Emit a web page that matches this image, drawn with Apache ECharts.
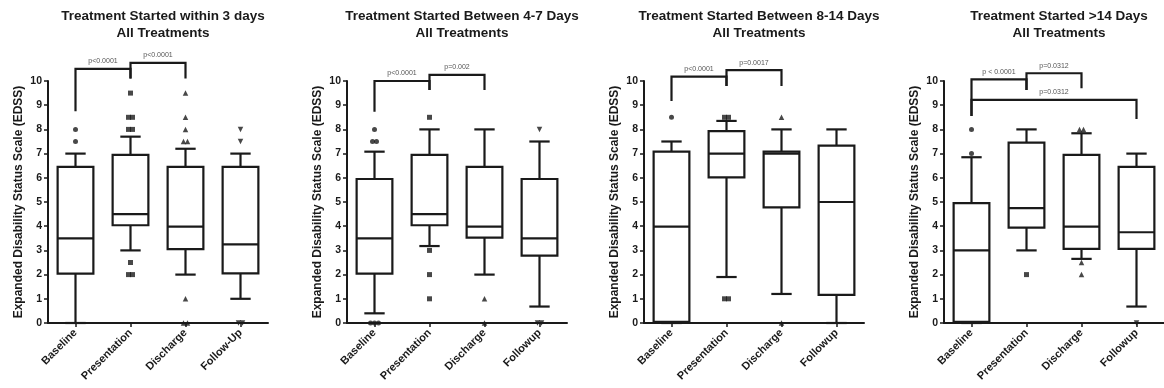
<!DOCTYPE html>
<html><head><meta charset="utf-8">
<script src="https://cdn.jsdelivr.net/npm/echarts@6/dist/echarts.min.js"></script>
<style>html,body{margin:0;padding:0;background:#fff}#c{width:1164px;height:388px}</style>
</head><body><div id="c"></div>
<script>
// ---------- DATA ----------
const panelTitles = [
  'Treatment Started within 3 days\nAll Treatments',
  'Treatment Started Between 4-7 Days\nAll Treatments',
  'Treatment Started Between 8-14 Days\nAll Treatments',
  'Treatment Started >14 Days\nAll Treatments'
];
const categories3days = ['Baseline','Presentation','Discharge','Follow-Up'];
const categoriesOther = ['Baseline','Presentation','Discharge','Followup'];
const yTicks = [0,1,2,3,4,5,6,7,8,9,10];
const yAxisTitle = 'Expanded Disability Status Scale (EDSS)';

// [low whisker, Q1, median, Q3, high whisker] per category
const boxes3days   = [[0,2.04,3.5,6.45,7],[3,4.04,4.5,6.95,7.7],[2,3.05,3.98,6.45,7.2],[1,2.05,3.25,6.45,7]];
const boxes4to7    = [[0.4,2.04,3.5,5.95,7.08],[3.18,4.04,4.5,6.95,8],[2,3.53,3.98,6.45,8],[0.68,2.78,3.5,5.95,7.5]];
const boxes8to14   = [[0,0.05,3.98,7.08,7.5],[1.9,6.02,7,7.93,8.35],[1.2,4.78,7,7.08,8],[0,1.16,5,7.33,8]];
const boxesOver14  = [[0,0.05,3,4.95,6.85],[3,3.94,4.75,7.45,8],[2.65,3.06,3.98,6.95,7.84],[0.68,3.06,3.75,6.45,7]];

// outliers: [category index, value]
const outliers3days  = [[0,8],[0,7.5],
  [1,9.5],[1,8.5],[1,8.5],[1,8],[1,8],[1,2.5],[1,2],[1,2],
  [2,9.5],[2,8.5],[2,8],[2,7.5],[2,7.5],[2,1],[2,0],[2,0],
  [3,8],[3,7.5],[3,0],[3,0]];
const outliers4to7   = [[0,8],[0,7.5],[0,7.5],[0,0],[0,0],[0,0],
  [1,8.5],[1,3],[1,2],[1,1],
  [2,1],[2,0],
  [3,8],[3,0],[3,0]];
const outliers8to14  = [[0,8.5],
  [1,8.5],[1,8.5],[1,1],[1,1],
  [2,8.5],[2,0]];
const outliersOver14 = [[0,8],[0,7],
  [1,2],
  [2,8],[2,8],[2,2.5],[2,2],
  [3,0]];

// significance brackets: [from cat, to cat, bar level, left leg end, right leg end]
const brackets3days  = [[0,1,10.5,8.75,10.1],[1,2,10.75,10.1,10.1]];
const brackets4to7   = [[0,1,10.0,8.73,9.63],[1,2,10.25,9.63,9.63]];
const brackets8to14  = [[0,1,10.18,9.17,9.79],[1,2,10.45,9.79,9.79]];
const bracketsOver14 = [[0,1,10.07,8.55,9.63],[1,2,10.32,9.63,9.7],[0,3,9.22,8.55,8.43]];
const pLabels3days  = ['p<0.0001','p<0.0001'];
const pLabels4to7   = ['p<0.0001','p=0.002'];
const pLabels8to14  = ['p<0.0001','p=0.0017'];
const pLabelsOver14 = ['p < 0.0001','p=0.0312','p=0.0312'];

// ---------- BUILD ----------
const panels = [
  {cats: categories3days, boxes: boxes3days, out: outliers3days, br: brackets3days, pl: pLabels3days},
  {cats: categoriesOther, boxes: boxes4to7, out: outliers4to7, br: brackets4to7, pl: pLabels4to7},
  {cats: categoriesOther, boxes: boxes8to14, out: outliers8to14, br: brackets8to14, pl: pLabels8to14},
  {cats: categoriesOther, boxes: boxesOver14, out: outliersOver14, br: bracketsOver14, pl: pLabelsOver14}
];
const gridLefts = [48, 347, 644, 944];
const gridW = 220, gridTop = 81, gridH = 242;
const INK = '#1a1a1a';
const FONT = '"Liberation Sans", Arial, sans-serif';
const symbols = [
  {symbol:'circle', size:5, rot:0},
  {symbol:'rect', size:5, rot:0},
  {symbol:'triangle', size:5.5, rot:0},
  {symbol:'triangle', size:5.5, rot:180}
];

function renderBox(params, api){
  const x = api.value(0);
  const pL = api.coord([x, api.value(1)]);
  const p1 = api.coord([x, api.value(2)]);
  const pm = api.coord([x, api.value(3)]);
  const p3 = api.coord([x, api.value(4)]);
  const pH = api.coord([x, api.value(5)]);
  const band = api.size([1,0])[0];
  const bw = band*0.65, cw = band*0.37;
  const cx = pL[0];
  const st = {stroke: INK, lineWidth: 2.2, fill: null};
  return {type:'group', children:[
    {type:'line', shape:{x1:cx,y1:pH[1],x2:cx,y2:p3[1]}, style:st},
    {type:'line', shape:{x1:cx,y1:p1[1],x2:cx,y2:pL[1]}, style:st},
    {type:'line', shape:{x1:cx-cw/2,y1:pH[1],x2:cx+cw/2,y2:pH[1]}, style:st},
    {type:'line', shape:{x1:cx-cw/2,y1:pL[1],x2:cx+cw/2,y2:pL[1]}, style:st},
    {type:'rect', shape:{x:cx-bw/2,y:p3[1],width:bw,height:p1[1]-p3[1]}, style:{fill:'#fff',stroke:INK,lineWidth:2.2}},
    {type:'line', shape:{x1:cx-bw/2,y1:pm[1],x2:cx+bw/2,y2:pm[1]}, style:st}
  ]};
}

function makeBracketRenderer(labels){
  return function(params, api){
    const a = api.value(0), b = api.value(1);
    const top = api.value(2), le = api.value(3), re = api.value(4);
    const pa = api.coord([a, top]), pb = api.coord([b, top]);
    const pae = api.coord([a, le]), pbe = api.coord([b, re]);
    return {type:'group', children:[
      {type:'polyline', shape:{points:[[pae[0],pae[1]],[pa[0],pa[1]],[pb[0],pb[1]],[pbe[0],pbe[1]]]},
       style:{stroke:INK, lineWidth:2.2, fill:null}},
      {type:'text', style:{text: labels[params.dataIndex], x:(pa[0]+pb[0])/2, y:pa[1]-4,
        align:'center', verticalAlign:'bottom', fontSize:7, fill:'#555', fontFamily:FONT}}
    ]};
  };
}

const option = {
  backgroundColor:'#fff',
  animation:false,
  title: [], grid: [], xAxis: [], yAxis: [], series: []
};

panels.forEach((p, i) => {
  option.title.push({
    text: panelTitles[i], left: gridLefts[i] + gridW/2, top: 3, textAlign:'center',
    textStyle:{fontSize:13.5, fontWeight:'bold', color:INK, fontFamily:FONT, lineHeight:17}
  });
  option.grid.push({left: gridLefts[i], top: gridTop, width: gridW, height: gridH, containLabel:false});
  option.xAxis.push({
    type:'category', gridIndex:i, data:p.cats, boundaryGap:true,
    axisLine:{show:true, lineStyle:{color:INK, width:2}},
    axisTick:{show:true, alignWithLabel:true, length:4, lineStyle:{color:INK, width:1.5}},
    axisLabel:{rotate:45, interval:0, margin:8, fontSize:11, fontWeight:'bold', color:INK, fontFamily:FONT},
    splitLine:{show:false}
  });
  option.yAxis.push({
    type:'value', gridIndex:i, min:yTicks[0], max:yTicks[yTicks.length-1], interval:1,
    name: yAxisTitle, nameLocation:'middle', nameGap:23, nameRotate:90,
    nameTextStyle:{fontSize:12, fontWeight:'bold', color:INK, fontFamily:FONT},
    axisLine:{show:true, lineStyle:{color:INK, width:2}},
    axisTick:{show:true, length:4, lineStyle:{color:INK, width:1.5}},
    axisLabel:{fontSize:10.5, fontWeight:'bold', color:INK, fontFamily:FONT, margin:6},
    splitLine:{show:false}
  });
  option.series.push({
    type:'custom', xAxisIndex:i, yAxisIndex:i, renderItem:renderBox, z:2,
    encode:{x:0, y:[1,2,3,4,5]},
    data: p.boxes.map((b, k) => [k].concat(b))
  });
  for (let k = 0; k < p.cats.length; k++) {
    const pts = p.out.filter(o => o[0] === k);
    const counts = {}, idx = {};
    pts.forEach(o => { counts[o[1]] = (counts[o[1]]||0) + 1; });
    const data = pts.map(o => {
      const n = counts[o[1]];
      const j = idx[o[1]] = (idx[o[1]] === undefined ? 0 : idx[o[1]] + 1);
      return {value:[k, o[1]], symbolOffset:[(j - (n-1)/2)*4, 0]};
    });
    if (!data.length) continue;
    option.series.push({
      type:'scatter', xAxisIndex:i, yAxisIndex:i, z:3,
      symbol: symbols[k].symbol, symbolSize: symbols[k].size, symbolRotate: symbols[k].rot,
      itemStyle:{color:INK}, data
    });
  }
  option.series.push({
    type:'custom', xAxisIndex:i, yAxisIndex:i, renderItem:makeBracketRenderer(p.pl), z:4, clip:false,
    encode:{x:[0,1], y:[2,3,4]},
    data: p.br
  });
});

const chart = echarts.init(document.getElementById('c'), null, {renderer:'canvas'});
chart.setOption(option);
</script>
</body></html>
